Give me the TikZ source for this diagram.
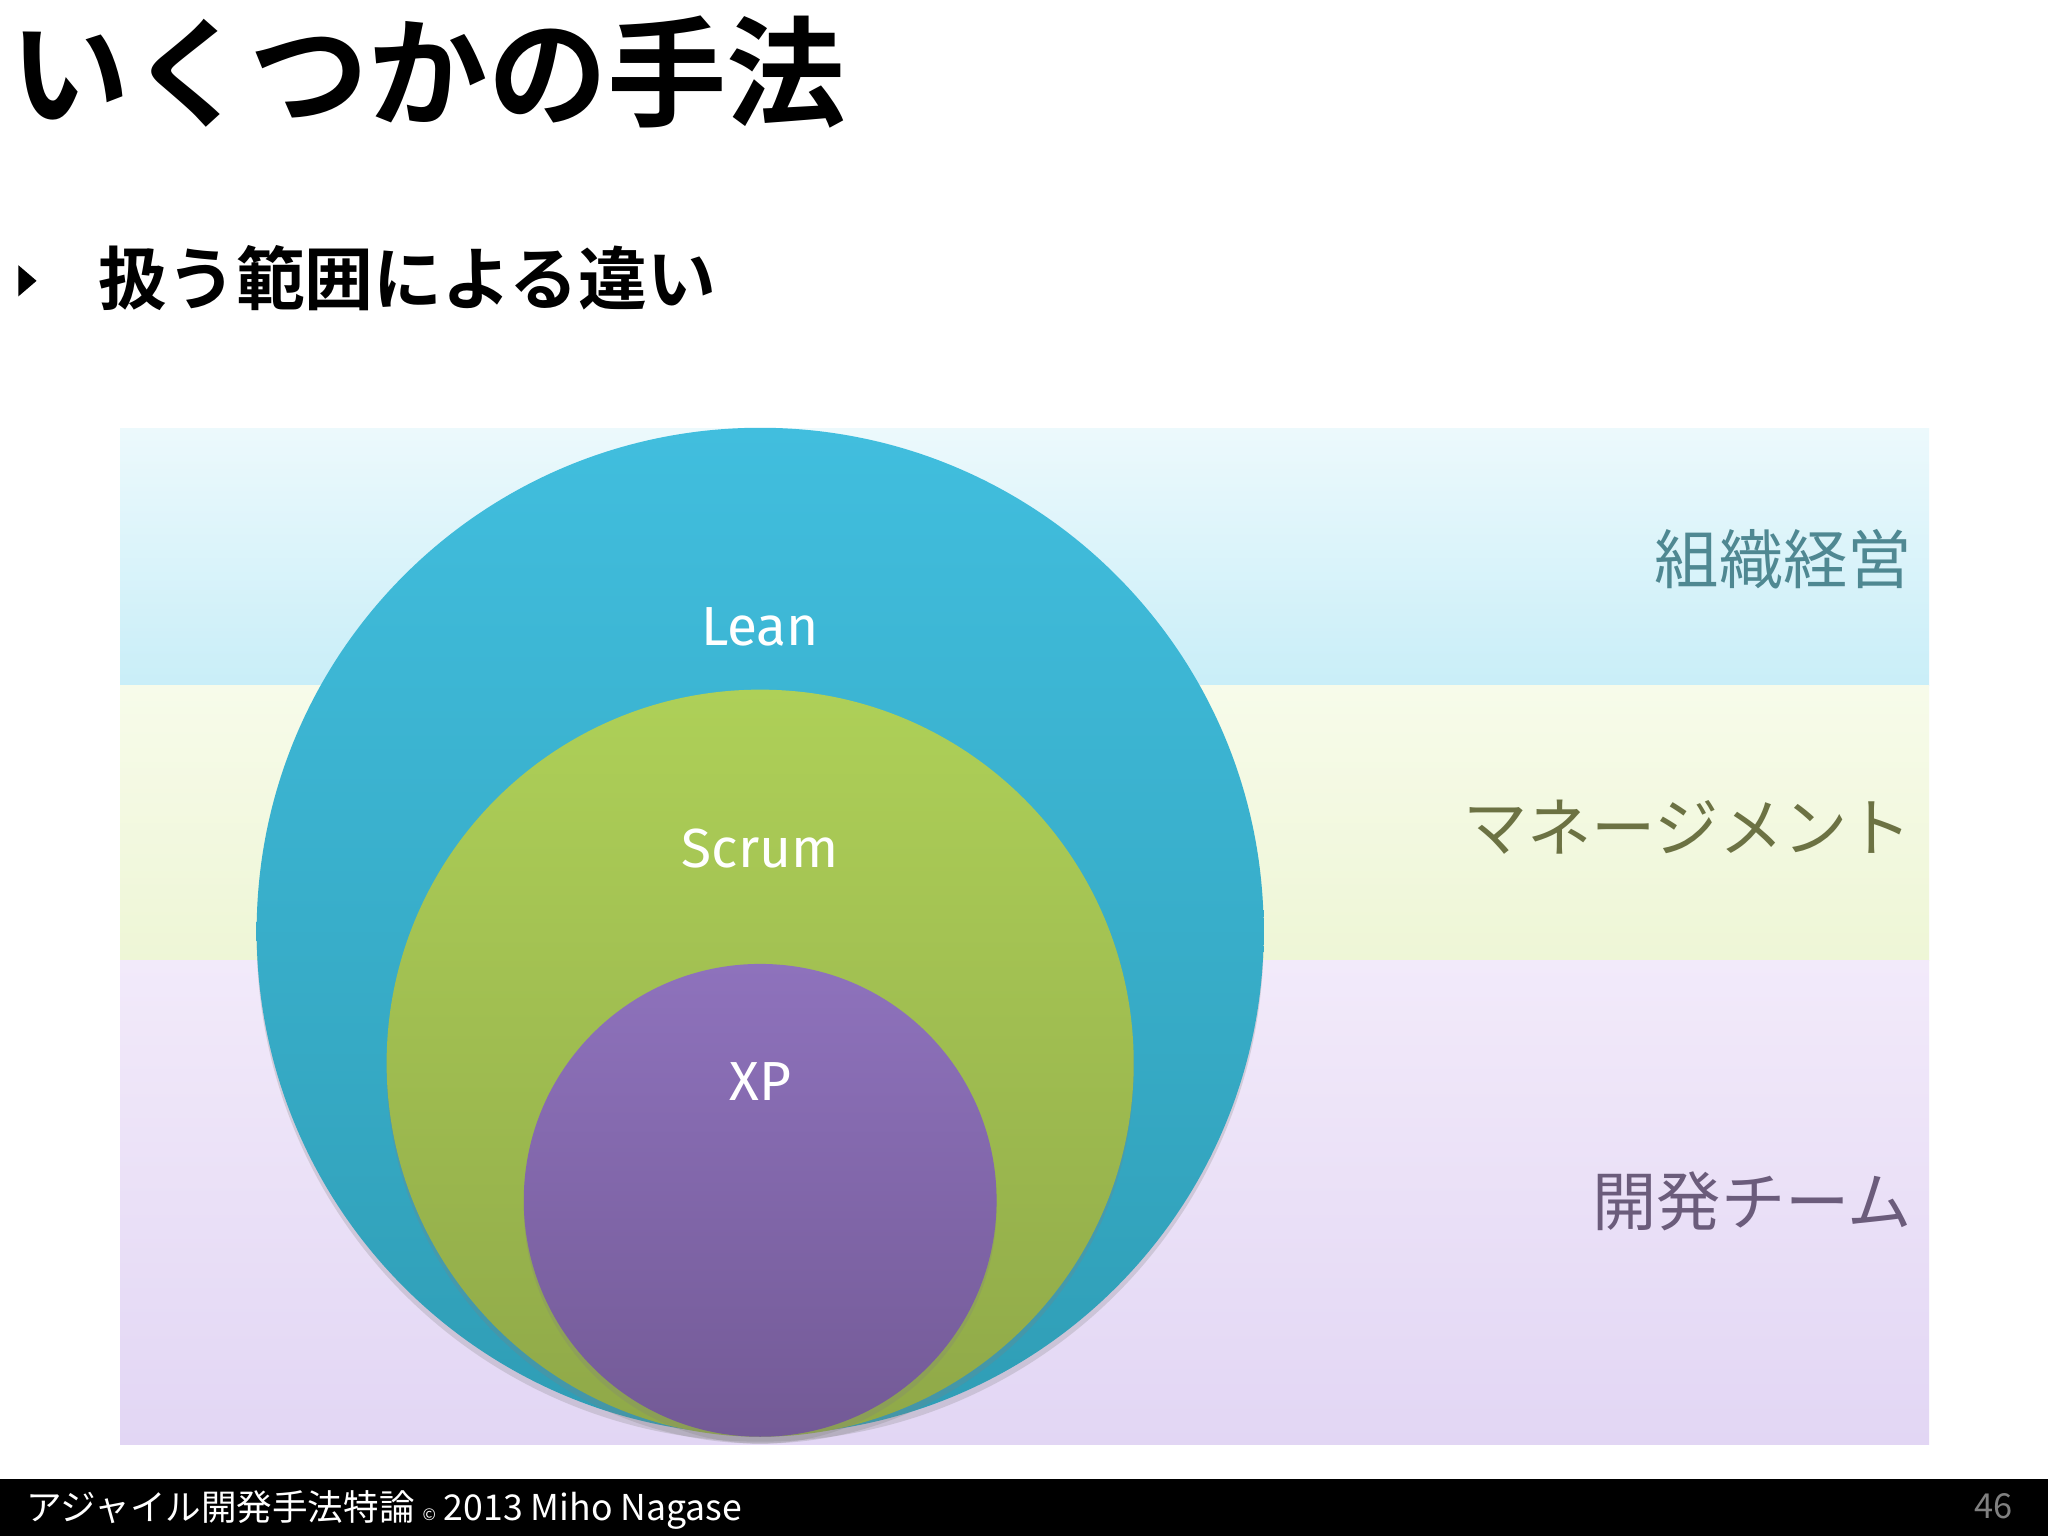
\documentclass[tikz,border=0pt]{standalone}
\usepackage{fontspec}
\setmainfont{Noto Sans CJK JP}
\newfontfamily\jpb{Noto Sans CJK JP Bold}
\newfontfamily\lat{Fira Sans}
\usetikzlibrary{shadows}
\definecolor{bandA1}{HTML}{ECF9FC}\definecolor{bandA2}{HTML}{C9EEF8}
\definecolor{bandB1}{HTML}{F7FBEA}\definecolor{bandB2}{HTML}{EEF6D6}
\definecolor{bandC1}{HTML}{F2EAFA}\definecolor{bandC2}{HTML}{E2D6F4}
\definecolor{leanT}{HTML}{41BEDE}\definecolor{leanB}{HTML}{2F9DB5}
\definecolor{scrT}{HTML}{AED058}\definecolor{scrB}{HTML}{8FA848}
\definecolor{xpT}{HTML}{8E72BC}\definecolor{xpB}{HTML}{735A96}
\definecolor{lblA}{HTML}{4F8892}\definecolor{lblB}{HTML}{6C7243}\definecolor{lblC}{HTML}{6B5C7B}
\tikzset{
 circ/.style={circle,inner sep=0pt,draw=none,drop shadow={opacity=0.25,shadow xshift=0pt,shadow yshift=-3pt}},
 clab/.style={text=white,font=\lat\fontsize{24}{26}\selectfont},
 rlab/.style={anchor=east,font=\fontsize{28}{30}\selectfont},
}
\begin{document}
\begin{tikzpicture}[x=0.02cm,y=-0.02cm]
\useasboundingbox (0,0) rectangle (1568,1176);
\fill[white] (0,0) rectangle (1568,1176);
% bands
\shade[top color=bandA1,bottom color=bandA2] (92,328) rectangle (1477,525);
\shade[top color=bandB1,bottom color=bandB2] (92,525) rectangle (1477,735);
\shade[top color=bandC1,bottom color=bandC2] (92,735) rectangle (1477,1106);
% title
\node[anchor=west,font=\jpb\fontsize{52}{56}\selectfont,inner sep=0] (title) at (8,55) {いくつかの手法};
\fill (14,203) -- (28,215) -- (14,227) -- cycle;
\node[anchor=west,font=\jpb\fontsize{30}{32}\selectfont,inner sep=0] (sub) at (75,213) {扱う範囲による違い};
% circles
\node[circ,minimum size=771*0.02cm,top color=leanT,bottom color=leanB] (lean) at (582,713) {};
\node[circ,minimum size=572*0.02cm,top color=scrT,bottom color=scrB] (scrum) at (582,814) {};
\node[circ,minimum size=362*0.02cm,top color=xpT,bottom color=xpB] (xp) at (582,919) {};
\node[clab] (leanl) at (582,480) {Lean};
\node[clab] (scruml) at (582,650) {Scrum};
\node[clab] (xpl) at (582,828) {XP};
% right labels
\node[rlab,text=lblA] (ra) at (1470,428) {組織経営};
\node[rlab,text=lblB] (rb) at (1470,633) {マネージメント};
\node[rlab,text=lblC] (rc) at (1470,920) {開発チーム};
% footer
\fill[black] (0,1132) rectangle (1568,1176);
\node[anchor=west,text=white,font=\fontsize{15.5}{17}\selectfont,inner sep=0] (foot) at (20,1156) {アジャイル開発手法特論 {\scriptsize ©} 2013 Miho Nagase};
\node[anchor=east,text=gray,font=\fontsize{15}{17}\selectfont,inner sep=0] (pg) at (1541,1153) {46};
\end{tikzpicture}
\end{document}
